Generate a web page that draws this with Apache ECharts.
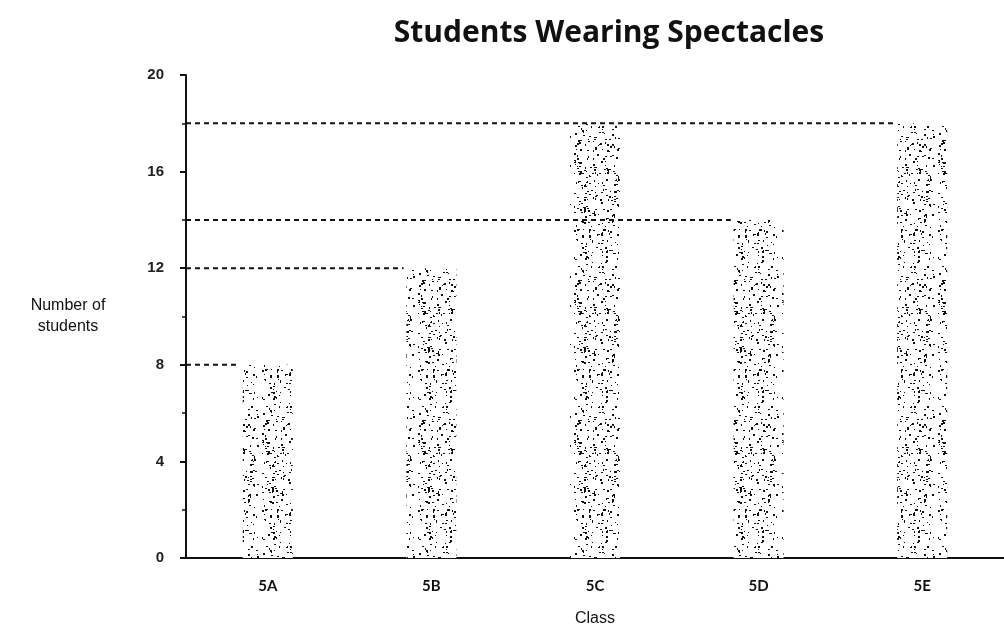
<!DOCTYPE html>
<html>
<head>
<meta charset="utf-8">
<script src="https://cdn.jsdelivr.net/npm/echarts@6/dist/echarts.min.js"></script>
<style>
html,body{margin:0;padding:0;background:#fff;}
#chart{width:1004px;height:632px;}
</style>
</head>
<body>
<div id="chart"></div>
<script>
const categories = ['5A', '5B', '5C', '5D', '5E'];
const students = [8, 12, 18, 14, 18];
const yTicks = [0, 4, 8, 12, 16, 20];
const guideValues = [8, 12, 14, 18];
const guideTargets = ['5A', '5B', '5D', '5E'];

// stippled texture (deterministic pseudo-random dots)
function makeStipple() {
  const c = document.createElement('canvas');
  c.width = 52; c.height = 140;
  const ctx = c.getContext('2d');
  ctx.fillStyle = '#ffffff';
  ctx.fillRect(0, 0, c.width, c.height);
  let s = 987654;
  function rnd() { s = (s * 1103515245 + 12345) & 0x7fffffff; return s / 0x7fffffff; }
  ctx.fillStyle = '#111111';
  for (let i = 0; i < 330; i++) {
    const x = 2 + Math.floor(rnd() * (c.width - 4));
    const y = Math.floor(rnd() * c.height);
    const w = rnd() < 0.6 ? 2 : 1;
    const h = rnd() < 0.4 ? 2 : 1;
    ctx.fillRect(x, y, w, h);
  }
  return c;
}

const chart = echarts.init(document.getElementById('chart'), null, {renderer: 'canvas'});

const guideSeries = guideValues.map((v, i) => {
  const idx = categories.indexOf(guideTargets[i]);
  return {
    type: 'line',
    xAxisIndex: 1,
    yAxisIndex: 0,
    data: [[-0.5, v], [idx - 0.17, v]],
    symbol: 'none',
    silent: true,
    z: 5,
    lineStyle: {color: '#111', width: 2, type: [5, 4]}
  };
});

chart.setOption({
  animation: false,
  backgroundColor: '#ffffff',
  title: {
    text: 'Students Wearing Spectacles',
    left: 604,
    top: 13,
    textAlign: 'center',
    textStyle: {fontFamily: 'Open Sans', fontWeight: 'bold', fontSize: 30, color: '#111'}
  },
  grid: {left: 186, right: -6, top: 75, bottom: 72, containLabel: false},
  xAxis: [{
    type: 'category',
    data: categories,
    name: 'Class',
    nameLocation: 'middle',
    nameGap: 53,
    nameTextStyle: {fontFamily: 'Liberation Sans', fontSize: 16, color: '#111'},
    axisLine: {lineStyle: {color: '#111', width: 2}},
    axisTick: {show: false},
    axisLabel: {fontFamily: 'Lato', fontWeight: 'bold', fontSize: 15, color: '#111', margin: 21}
  }, {
    type: 'value',
    min: -0.5,
    max: 4.5,
    show: false
  }],
  yAxis: {
    type: 'value',
    min: 0,
    max: 20,
    interval: 4,
    name: 'Number of\nstudents',
    nameLocation: 'middle',
    nameRotate: 0,
    nameGap: 118,
    nameTextStyle: {fontFamily: 'Liberation Sans', fontSize: 16, color: '#111', align: 'center', lineHeight: 21, padding: [0, 0, 92, 0]},
    axisLine: {show: true, onZero: false, lineStyle: {color: '#111', width: 2}},
    axisTick: {show: true, length: 6, lineStyle: {color: '#111', width: 2}},
    minorTick: {show: true, splitNumber: 2, length: 4, lineStyle: {color: '#111', width: 1.5}},
    splitLine: {show: false},
    axisLabel: {fontFamily: 'Liberation Sans', fontWeight: 'bold', fontSize: 15, color: '#222', margin: 22,
      formatter: v => yTicks.includes(v) ? String(v) : ''}
  },
  series: [{
    type: 'bar',
    data: students,
    barWidth: 50,
    z: 2,
    itemStyle: {color: {image: makeStipple(), repeat: 'repeat'}}
  }].concat(guideSeries)
});
</script>
</body>
</html>
